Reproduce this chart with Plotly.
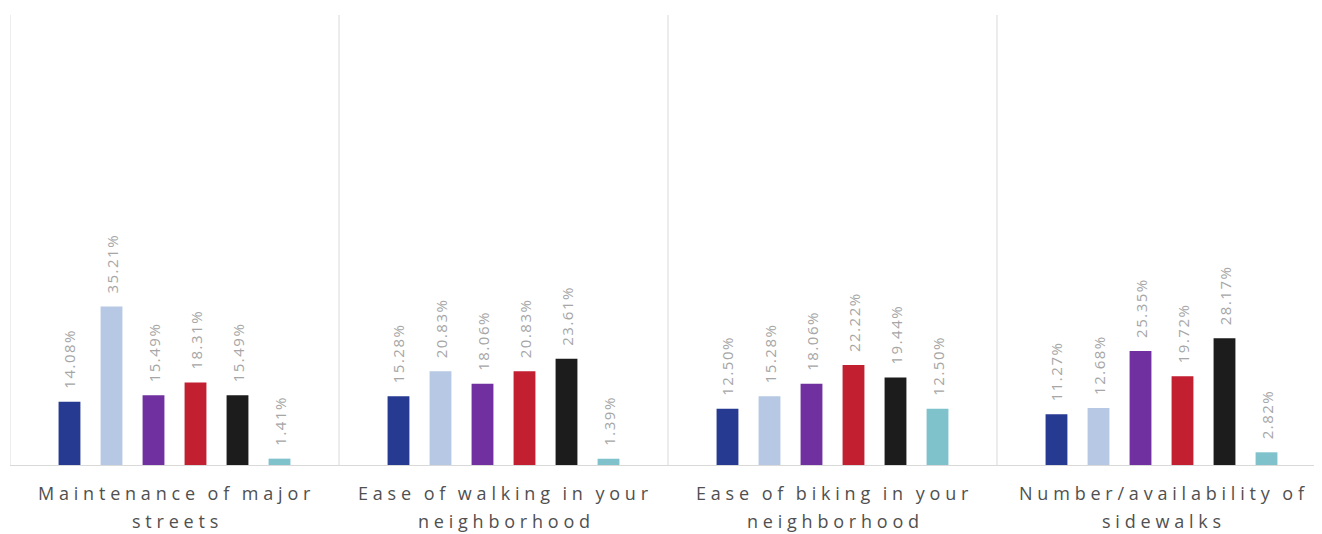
import plotly.graph_objects as go

categories = [
    "Maintenance of major|streets",
    "Ease of walking in your|neighborhood",
    "Ease of biking in your|neighborhood",
    "Number/availability of|sidewalks",
]
series_names = ["Series 1", "Series 2", "Series 3", "Series 4", "Series 5", "Series 6"]
series_values = [
    [14.08, 15.28, 12.50, 11.27],
    [35.21, 20.83, 15.28, 12.68],
    [15.49, 18.06, 18.06, 25.35],
    [18.31, 20.83, 22.22, 19.72],
    [15.49, 23.61, 19.44, 28.17],
    [1.41, 1.39, 12.50, 2.82],
]
colors = ["#263A92", "#B6C8E3", "#7030A0", "#C21F30", "#1C1C1C", "#7FC2CC"]

x_pos = list(range(len(categories)))

def spaced(s, sep):
    return sep.join("\u2009" if ch == " " else ch for ch in s)

fig = go.Figure()
for name, vals, col in zip(series_names, series_values, colors):
    fig.add_trace(go.Bar(
        x=x_pos, y=vals, name=name,
        marker=dict(color=col, line=dict(width=0)),
        text=["\u2002\u2009" + spaced(f"{v:.2f}%", "\u200A") for v in vals],
        textposition="outside", textangle=-90,
        textfont=dict(family="Open Sans", size=15, color="#A6A6A6"),
        cliponaxis=False,
    ))

shapes = []
for i in range(len(categories) + 1):
    shapes.append(dict(type="line", xref="x", yref="paper",
                       x0=i - 0.5, x1=i - 0.5, y0=0, y1=1,
                       line=dict(color="#D9D9D9", width=1)))

annotations = []
for i, c in enumerate(categories):
    for j, line in enumerate(c.split("|")):
        annotations.append(dict(x=i, y=0, xref="x", yref="paper",
                                text=spaced(line, "\u2009\u200A"),
                                showarrow=False, yanchor="middle",
                                yshift=-(28 + 28 * j),
                                font=dict(family="Open Sans", size=18, color="#505050")))

fig.update_layout(
    width=1322, height=534,
    margin=dict(l=2, r=4, t=7, b=77),
    paper_bgcolor="white", plot_bgcolor="white",
    showlegend=False,
    barmode="group", bargap=0.234, bargroupgap=0.48,
    uniformtext=dict(minsize=15, mode="show"),
    xaxis=dict(range=[-0.5, 3.5], showticklabels=False, showgrid=False,
               zeroline=False, showline=True, linecolor="#D9D9D9", linewidth=1,
               fixedrange=True),
    yaxis=dict(range=[0, 100], visible=False, fixedrange=True),
    shapes=shapes, annotations=annotations,
)

fig.write_html("out.html")
